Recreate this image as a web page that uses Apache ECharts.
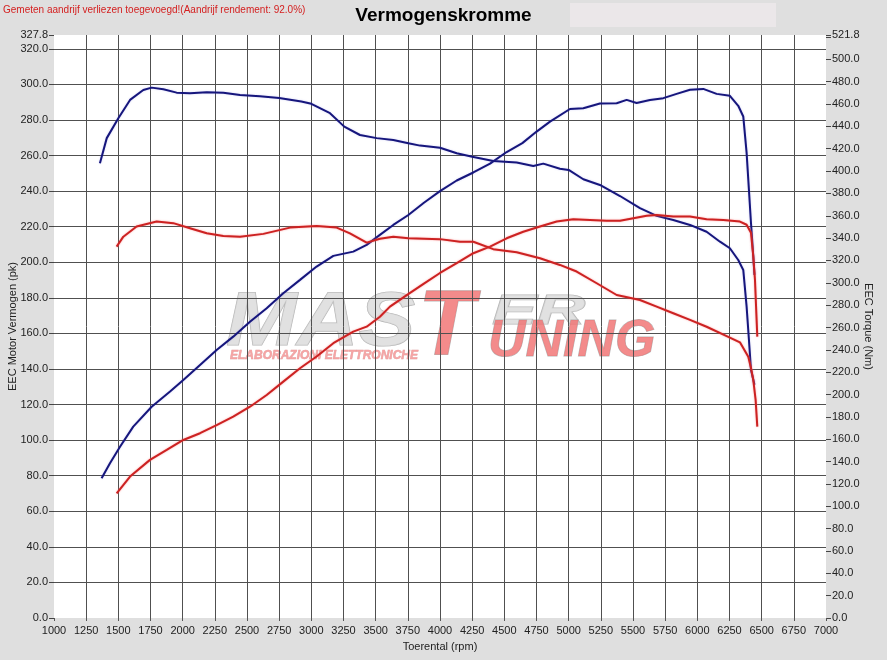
<!DOCTYPE html>
<html>
<head>
<meta charset="utf-8">
<script src="https://cdn.jsdelivr.net/npm/echarts@6/dist/echarts.min.js"></script>
<style>
html,body{margin:0;padding:0;background:#dfdfdf;}
#chart{width:887px;height:660px;}
</style>
</head>
<body>
<div id="chart"></div>
<script>
// ---- Data ----
const titleText = 'Vermogenskromme';
const noteText = 'Gemeten aandrijf verliezen toegevoegd!(Aandrijf rendement: 92.0%)';
const xName = 'Toerental (rpm)';
const yLeftName = 'EEC Motor Vermogen (pk)';
const yRightName = 'EEC Torque (Nm)';

// Blue run: power (pk)
const rpmBluePower = [1370,1435,1513,1616,1759,1902,2005,2135,2264,2393,2523,2653,2782,2912,3041,3171,3326,3430,3533,3637,3754,3875,4000,4130,4259,4389,4518,4640,4751,4855,5010,5114,5243,5373,5451,5528,5632,5736,5839,5943,6046,6150,6253,6318,6357,6383,6401,6417,6435,6444];
const bluePower = [78.6,87,96.3,107.6,118.8,127.3,133.8,142.3,150.7,158.2,166.6,174.2,182.6,190.1,197.6,203.6,206,209.8,215.4,221,226.6,233.5,240,246,250.5,255.5,262,267,273.5,279.1,286.2,286.6,289.3,289.4,291.3,289.6,291.3,292.3,294.7,297,297.5,294.7,293.6,288,282,261.5,240.7,222.1,203.2,192.9];

// Blue run: torque (Nm)
const rpmBlueTorque = [1357,1410,1500,1591,1694,1759,1850,1953,2057,2187,2316,2446,2600,2750,2922,3000,3145,3256,3378,3508,3637,3754,3845,4000,4130,4251,4414,4596,4725,4803,4932,5000,5114,5243,5399,5554,5684,5813,5943,6072,6176,6253,6318,6357,6383,6401,6417,6444];
const blueTorque = [407.0,429.5,447.3,463.7,472.6,474.7,473.2,470.2,469.7,470.5,470.2,468.2,466.9,465.4,462.3,460.2,451.8,439.8,432.3,429.5,427.9,425.0,422.8,420.9,415.9,412.9,409.1,407.7,404.6,406.7,402.1,401.0,392.7,387.6,377.7,366.8,359.9,356.2,351.8,345.7,336.8,330.9,320.4,311.5,278.7,249.0,222.1,208.7];

// Red run: power (pk)
const rpmRedPower = [1487,1591,1746,1876,2005,2135,2264,2393,2523,2653,2782,2912,3041,3171,3326,3430,3533,3611,3750,3875,4000,4130,4259,4389,4518,4647,4777,4907,5036,5166,5295,5399,5503,5606,5684,5813,5943,6072,6202,6331,6383,6417,6435,6448,6466];
const redPower = [70.1,79.5,88.9,94.5,100.1,103.9,108.5,113.2,118.8,125.4,132.9,140.4,147,154.5,161,163.8,169.4,175.1,182,188,194,199.5,205.1,208.8,213.5,217.2,220.1,222.9,224.2,223.8,223.3,223.4,224.8,226.2,226.6,225.7,225.7,224.2,223.8,222.9,221.1,216.6,203.2,190.1,158.2];

// Red run: torque (Nm)
const rpmRedTorque = [1487,1539,1642,1798,1927,2057,2187,2316,2446,2627,2834,3041,3197,3300,3430,3533,3637,3754,4000,4155,4259,4414,4596,4777,4932,5062,5218,5373,5554,5684,5813,5943,6072,6228,6331,6396,6417,6435,6453,6466];
const redTorque = [332.4,341.3,350.4,354.8,353.4,348.9,344.3,341.9,341.3,343.8,349.4,350.8,349.4,344.3,336.0,339.5,341.3,339.8,339.1,336.8,336.8,330.1,327.4,322.0,316.0,310.1,299.6,289.1,284.6,278.7,272.8,266.8,260.7,252.3,246.7,233.8,223.8,213.0,195.2,171.3];

const leftMax = 327.8;
const rightMax = 521.8;

const zip = (xs, ys) => xs.map((x, i) => [x, ys[i]]);

const FONT = '"Liberation Sans", Arial, sans-serif';
const BLUE = '#16167c';
const RED = '#cc2222';

const chart = echarts.init(document.getElementById('chart'), null, {renderer: 'canvas'});

const lineSeries = (name, data, color, yIdx, glow) => ({
  name, type: 'line', data, yAxisIndex: yIdx,
  showSymbol: false, smooth: false, z: 3,
  lineStyle: {color, width: 2, shadowColor: glow, shadowBlur: 2},
  itemStyle: {color},
  emphasis: {disabled: true}
});

chart.setOption({
  animation: false,
  backgroundColor: '#dfdfdf',
  textStyle: {fontFamily: FONT},
  title: {
    text: titleText, left: 'center', top: 1,
    textStyle: {fontFamily: FONT, fontSize: 19, fontWeight: 'bold', color: '#000'}
  },
  grid: {left: 54, right: 61, top: 35, bottom: 42, containLabel: false, outerBoundsMode: 'none',
    show: true, backgroundColor: '#ffffff', borderWidth: 0},
  xAxis: {
    type: 'value', min: 1000, max: 7000, interval: 250,
    name: xName, nameLocation: 'middle', nameGap: 23, nameMoveOverlap: false,
    nameTextStyle: {fontFamily: FONT, fontSize: 11, color: '#222'},
    axisLine: {show: false},
    axisTick: {show: true, length: 3, lineStyle: {color: '#555'}},
    axisLabel: {fontFamily: FONT, fontSize: 11, color: '#222', margin: 7,
      formatter: v => String(v)},
    splitLine: {show: true, showMinLine: false, showMaxLine: false, lineStyle: {color: '#505050', width: 1}}
  },
  yAxis: [{
    type: 'value', min: 0, max: leftMax, interval: 20, position: 'left',
    name: yLeftName, nameLocation: 'middle', nameGap: 36, nameMoveOverlap: false,
    nameTextStyle: {fontFamily: FONT, fontSize: 11, color: '#222'},
    axisLine: {show: false},
    axisTick: {show: true, length: 5, lineStyle: {color: '#444'}},
    axisLabel: {fontFamily: FONT, fontSize: 11, color: '#222', margin: 6,
      formatter: v => v.toFixed(1)},
    splitLine: {show: true, showMinLine: false, showMaxLine: false, lineStyle: {color: '#505050', width: 1}}
  }, {
    type: 'value', min: 0, max: rightMax, interval: 20, position: 'right',
    name: yRightName, nameLocation: 'middle', nameGap: 37, nameRotate: -90, nameMoveOverlap: false,
    nameTextStyle: {fontFamily: FONT, fontSize: 11, color: '#222'},
    axisLine: {show: false},
    axisTick: {show: true, length: 5, lineStyle: {color: '#444'}},
    axisLabel: {fontFamily: FONT, fontSize: 11, color: '#222', margin: 6,
      formatter: v => (v === 520 ? '' : v.toFixed(1))},
    splitLine: {show: false}
  }],
  series: [
    lineSeries('Vermogen 1', zip(rpmBluePower, bluePower), BLUE, 0, 'rgba(110,110,230,0.3)'),
    lineSeries('Koppel 1', zip(rpmBlueTorque, blueTorque), BLUE, 1, 'rgba(110,110,230,0.3)'),
    lineSeries('Vermogen 2', zip(rpmRedPower, redPower), RED, 0, 'rgba(255,110,110,0.6)'),
    lineSeries('Koppel 2', zip(rpmRedTorque, redTorque), RED, 1, 'rgba(255,110,110,0.6)')
  ],
  graphic: [
    {type: 'rect', z: -1, shape: {x: 570, y: 3, width: 206, height: 24}, style: {fill: '#ebe7e9'}},
    {type: 'text', x: 3, y: 5, style: {text: noteText, font: '10px ' + FONT, fill: '#d42020'}},
    {type: 'group', z: 50, silent: true, children: [
      {type: 'text', x: 226, y: 286, scaleX: 1.12, style: {text: 'MAS', font: 'italic bold 76px ' + FONT, fill: 'rgba(218,218,218,0.8)', stroke: 'rgba(150,150,150,0.7)', lineWidth: 1}},
      {type: 'text', x: 492, y: 291, scaleX: 1.6, style: {text: 'ER', font: 'italic bold 42px ' + FONT, fill: 'rgba(218,218,218,0.8)', stroke: 'rgba(150,150,150,0.7)', lineWidth: 1}},
      {type: 'text', x: 418, y: 284, style: {text: 'T', font: 'italic bold 92px ' + FONT, fill: 'rgba(240,110,110,0.8)', stroke: 'rgba(170,170,170,0.8)', lineWidth: 1}},
      {type: 'text', x: 488, y: 316, style: {text: 'UNING', font: 'italic bold 52px ' + FONT, fill: 'rgba(240,110,110,0.8)', stroke: 'rgba(170,170,170,0.8)', lineWidth: 1}},
      {type: 'text', x: 230, y: 350, style: {text: 'ELABORAZIONI ELETTRONICHE', font: 'italic bold 12px ' + FONT, fill: 'rgba(245,150,150,0.85)', stroke: 'rgba(200,90,90,0.6)', lineWidth: 0.5}}
    ]}
  ]
});
</script>
</body>
</html>
